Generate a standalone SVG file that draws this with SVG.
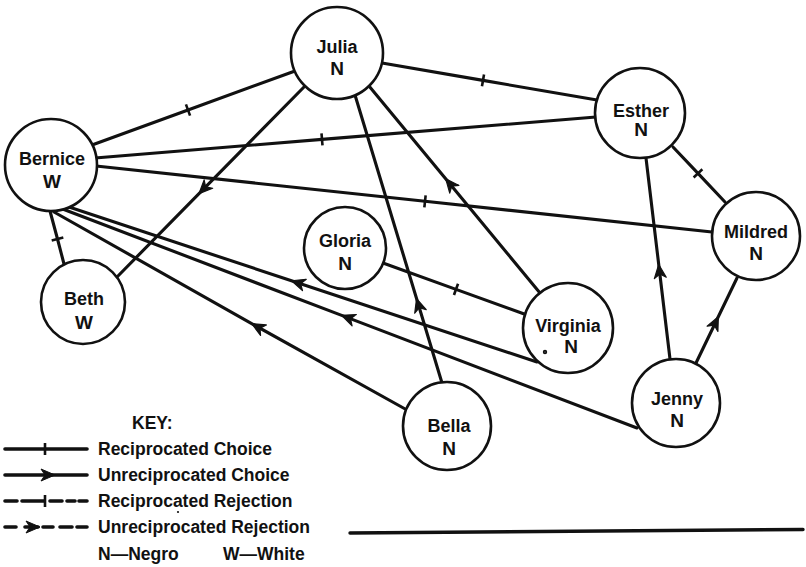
<svg xmlns="http://www.w3.org/2000/svg" width="806" height="567" viewBox="0 0 806 567">
  <style>
    .node circle { fill: #fff; stroke: #111; stroke-width: 2.6; }
    .nm { font-family: "Liberation Sans", Arial, sans-serif; font-weight: bold; font-size: 18px; fill: #111; text-anchor: middle; }
    .cl { font-family: "Liberation Sans", Arial, sans-serif; font-weight: bold; font-size: 19px; fill: #111; text-anchor: middle; }
    .edge { fill: none; stroke: #111; stroke-width: 3.1; stroke-linecap: round; }
    .keyline { fill: none; stroke: #111; stroke-width: 3.6; stroke-linecap: round; }
    .recip { marker-mid: url(#tick); }
    .uni { marker-mid: url(#arrow); }
    .key { font-family: "Liberation Sans", Arial, sans-serif; font-weight: bold; font-size: 17.5px; fill: #111; }
  </style>
  <defs>
    <!-- cross stroke for reciprocated links -->
    <marker id="tick" markerUnits="userSpaceOnUse" markerWidth="1" markerHeight="1" refX="0" refY="0" orient="auto" overflow="visible">
      <path d="M0,-6 L0,6" stroke="#111" stroke-width="2.6" fill="none"/>
    </marker>
    <!-- barbed head for one-way links -->
    <marker id="arrow" markerUnits="userSpaceOnUse" markerWidth="1" markerHeight="1" refX="0" refY="0" orient="auto" overflow="visible">
      <path d="M1.5,0 L-12,-6 L-8,0 L-12,6 Z" fill="#111" stroke="#111" stroke-width="1.2" stroke-linejoin="round"/>
    </marker>
  </defs>

  <rect width="806" height="567" fill="#fff"/>

  <g id="connectors">
    <!-- reciprocated choices -->
    <path class="edge recip" d="M92,145 L188,110 L295,71"/>
    <path class="edge recip" d="M382,63 L483,80.4 L597,100"/>
    <path class="edge recip" d="M95,158 L322,139.4 L596,117"/>
    <path class="edge recip" d="M96,166 L425,201.3 L712,232"/>
    <path class="edge recip" d="M673,147 L698,173.4 L725,202"/>
    <path class="edge recip" d="M50,211 L57.5,239 L64,264"/>
    <path class="edge recip" d="M383,263 L456,289.4 L527,315"/>
    <!-- one-way choices, drawn from chooser to chosen -->
    <path class="edge uni" d="M304,87 L200,192.6 L117,277"/>
    <path class="edge uni" d="M442,383 L417,300 L355,95"/>
    <path class="edge uni" d="M540,293 L446.7,180 L369,86"/>
    <path class="edge uni" d="M537,362 L293,281.2 L66,206"/>
    <path class="edge uni" d="M637,428 L343,315.9 L60,208"/>
    <path class="edge uni" d="M407,410 L253,324.3 L54,212"/>
    <path class="edge uni" d="M670,359 L658.9,266 L646,158"/>
    <path class="edge uni" d="M696,363 L717.7,318 L737,278"/>
  </g>

  <g id="julia" class="node">
    <circle cx="337" cy="53" r="46"/>
    <text class="nm" x="337" y="53">Julia</text>
    <text class="cl" x="337" y="75">N</text>
  </g>
  <g id="bernice" class="node">
    <circle cx="51" cy="165" r="46"/>
    <text class="nm" x="52" y="165">Bernice</text>
    <text class="cl" x="52" y="188">W</text>
  </g>
  <g id="beth" class="node">
    <circle cx="83" cy="302" r="42"/>
    <text class="nm" x="84" y="305">Beth</text>
    <text class="cl" x="84" y="329">W</text>
  </g>
  <g id="gloria" class="node">
    <circle cx="345" cy="248" r="41"/>
    <text class="nm" x="345" y="247">Gloria</text>
    <text class="cl" x="345" y="270">N</text>
  </g>
  <g id="virginia" class="node">
    <circle cx="568" cy="328" r="45"/>
    <text class="nm" x="568" y="332">Virginia</text>
    <text class="cl" x="571" y="353">N</text>
    <circle cx="545" cy="352" r="0.9" fill="#111" stroke="none"/>
  </g>
  <g id="esther" class="node">
    <circle cx="640" cy="113" r="45"/>
    <text class="nm" x="641" y="117">Esther</text>
    <text class="cl" x="641" y="136">N</text>
  </g>
  <g id="mildred" class="node">
    <circle cx="756" cy="236" r="44"/>
    <text class="nm" x="756" y="238">Mildred</text>
    <text class="cl" x="756" y="260">N</text>
  </g>
  <g id="jenny" class="node">
    <circle cx="676" cy="403" r="44"/>
    <text class="nm" x="677" y="405">Jenny</text>
    <text class="cl" x="677" y="427">N</text>
  </g>
  <g id="bella" class="node">
    <circle cx="447" cy="426" r="44"/>
    <text class="nm" x="449" y="432">Bella</text>
    <text class="cl" x="449" y="455">N</text>
  </g>

  <g id="legend">
    <text class="key" x="132" y="429">KEY:</text>
    <!-- reciprocated choice -->
    <path class="keyline" d="M5,449 L87,449"/>
    <path d="M45,443 L45,455" stroke="#111" stroke-width="2.6"/>
    <text class="key" x="98" y="455">Reciprocated Choice</text>
    <!-- unreciprocated choice -->
    <path class="keyline" d="M5,475 L87,475"/>
    <path d="M55,475 L41,469 L45,475 L41,481 Z" fill="#111" stroke="#111" stroke-linejoin="round"/>
    <text class="key" x="98" y="481">Unreciprocated Choice</text>
    <!-- reciprocated rejection -->
    <path class="keyline" d="M5,501 L17,501 M22,501 L44,501 M50,501 L62,501 M67,501 L75,501 M79,501 L87,501"/>
    <path d="M45,495 L45,507" stroke="#111" stroke-width="2.6"/>
    <text class="key" x="98" y="507">Reciprocated Rejection</text>
    <circle cx="178" cy="512" r="1.1" fill="#111"/>
    <!-- unreciprocated rejection -->
    <path class="keyline" d="M5,527 L16,527 M25,527 L38,527 M43,527 L53,527 M60,527 L72,527 M77,527 L87,527"/>
    <path d="M40,527 L26,521 L30,527 L26,533 Z" fill="#111" stroke="#111" stroke-linejoin="round"/>
    <text class="key" x="98" y="533">Unreciprocated Rejection</text>
    <text class="key" x="98" y="560">N—Negro</text>
    <text class="key" x="223" y="560">W—White</text>
  </g>

  <path d="M350,533 L803,529.5" stroke="#111" stroke-width="3.4" stroke-linecap="round" fill="none"/>
</svg>
